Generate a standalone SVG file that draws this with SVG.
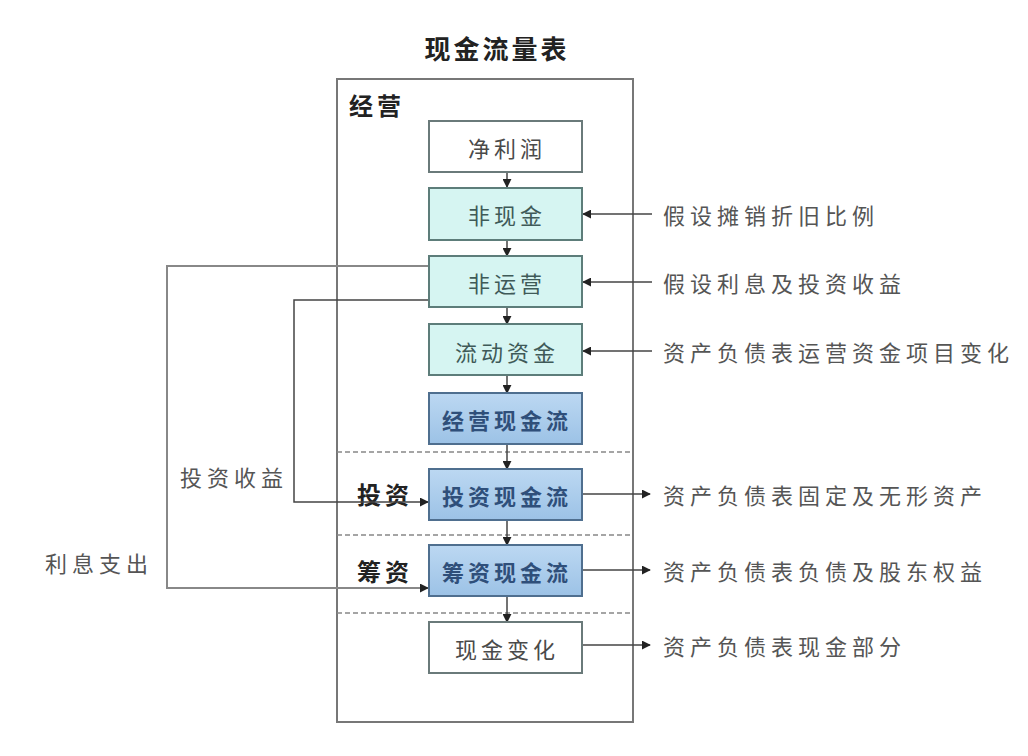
<svg xmlns="http://www.w3.org/2000/svg" width="1028" height="756" viewBox="0 0 1028 756">
<defs>
<linearGradient id="blue" x1="0" y1="0" x2="0" y2="1">
<stop offset="0" stop-color="#bcd8f2"/>
<stop offset="1" stop-color="#9cc2e6"/>
</linearGradient>
<marker id="ah" viewBox="0 0 10 10" refX="9" refY="5" markerWidth="9" markerHeight="9" markerUnits="userSpaceOnUse" orient="auto">
<path d="M0,0 L10,5 L0,10 z" fill="#222"/>
</marker>
</defs>
<style>
text{font-family:"Noto Sans CJK SC","Liberation Sans",sans-serif;}
.box{stroke:#6a7a7a;stroke-width:2;}
.white{fill:#ffffff;}
.cyan{fill:#d6f5f2;stroke:#5d7d7a;}
.blue{fill:url(#blue);stroke:#4f6f8f;}
.bt{font-size:22px;letter-spacing:4px;text-anchor:middle;dominant-baseline:central;}
.gt{fill:#4a4a4a;}
.ct{fill:#3f5a58;}
.blt{fill:#2f4f7a;font-weight:bold;}
.lbl{font-size:22px;letter-spacing:5px;fill:#555;dominant-baseline:central;}
.sec{font-size:24px;font-weight:bold;fill:#222;dominant-baseline:central;letter-spacing:4px;}
.ln{stroke:#444;stroke-width:1.5;fill:none;}
.gl{stroke:#888;stroke-width:2;fill:none;}
.dash{stroke:#888;stroke-width:1.5;stroke-dasharray:5,3;}
</style>
<rect width="1028" height="756" fill="#ffffff"/>
<text x="497" y="47" text-anchor="middle" dominant-baseline="central" font-size="26" font-weight="bold" letter-spacing="3" fill="#222">现金流量表</text>
<rect x="337" y="79" width="296" height="643" fill="none" stroke="#777" stroke-width="2"/>
<text class="sec" x="349" y="104">经营</text>
<text class="sec" x="357" y="493">投资</text>
<text class="sec" x="357" y="570">筹资</text>
<line class="dash" x1="337" y1="452" x2="633" y2="452"/>
<line class="dash" x1="337" y1="535" x2="633" y2="535"/>
<line class="dash" x1="337" y1="613" x2="633" y2="613"/>
<g id="connectors">
<line class="ln" x1="507" y1="172" x2="507" y2="187" marker-end="url(#ah)"/>
<line class="ln" x1="507" y1="240" x2="507" y2="256" marker-end="url(#ah)"/>
<line class="ln" x1="507" y1="307" x2="507" y2="324" marker-end="url(#ah)"/>
<line class="ln" x1="507" y1="375" x2="507" y2="393" marker-end="url(#ah)"/>
<line class="ln" x1="507" y1="444" x2="507" y2="469" marker-end="url(#ah)"/>
<line class="ln" x1="507" y1="520" x2="507" y2="545" marker-end="url(#ah)"/>
<line class="ln" x1="507" y1="596" x2="507" y2="622" marker-end="url(#ah)"/>
<line class="ln" x1="652" y1="214" x2="583" y2="214" marker-end="url(#ah)"/>
<line class="ln" x1="652" y1="282" x2="583" y2="282" marker-end="url(#ah)"/>
<line class="ln" x1="652" y1="351" x2="583" y2="351" marker-end="url(#ah)"/>
<line class="ln" x1="582" y1="494" x2="650" y2="494" marker-end="url(#ah)"/>
<line class="ln" x1="582" y1="570" x2="650" y2="570" marker-end="url(#ah)"/>
<line class="ln" x1="582" y1="645" x2="650" y2="645" marker-end="url(#ah)"/>
<polyline class="gl" points="429,266 167,266 167,588 428,588" marker-end="url(#ah)"/>
<polyline class="ln" points="429,300 294,300 294,502 428,502" marker-end="url(#ah)"/>
</g>
<g id="n1"><rect class="box white" x="429" y="121" width="153" height="51"/><text class="bt gt" x="507" y="147">净利润</text></g>
<g id="n2"><rect class="box cyan" x="429" y="188" width="153" height="52"/><text class="bt ct" x="507" y="214">非现金</text></g>
<g id="n3"><rect class="box cyan" x="429" y="256" width="153" height="51"/><text class="bt ct" x="507" y="282">非运营</text></g>
<g id="n4"><rect class="box cyan" x="429" y="324" width="153" height="51"/><text class="bt ct" x="507" y="351">流动资金</text></g>
<g id="n5"><rect class="box blue" x="429" y="393" width="153" height="51"/><text class="bt blt" x="507" y="419">经营现金流</text></g>
<g id="n6"><rect class="box blue" x="429" y="469" width="153" height="51"/><text class="bt blt" x="507" y="495">投资现金流</text></g>
<g id="n7"><rect class="box blue" x="429" y="545" width="153" height="51"/><text class="bt blt" x="507" y="571">筹资现金流</text></g>
<g id="n8"><rect class="box white" x="429" y="622" width="153" height="51"/><text class="bt gt" x="507" y="648">现金变化</text></g>
<text class="lbl" x="663" y="214">假设摊销折旧比例</text>
<text class="lbl" x="663" y="282">假设利息及投资收益</text>
<text class="lbl" x="663" y="351">资产负债表运营资金项目变化</text>
<text class="lbl" x="663" y="494">资产负债表固定及无形资产</text>
<text class="lbl" x="663" y="570">资产负债表负债及股东权益</text>
<text class="lbl" x="663" y="645">资产负债表现金部分</text>
<text class="lbl" x="180" y="476">投资收益</text>
<text class="lbl" x="45" y="562">利息支出</text>
</svg>
